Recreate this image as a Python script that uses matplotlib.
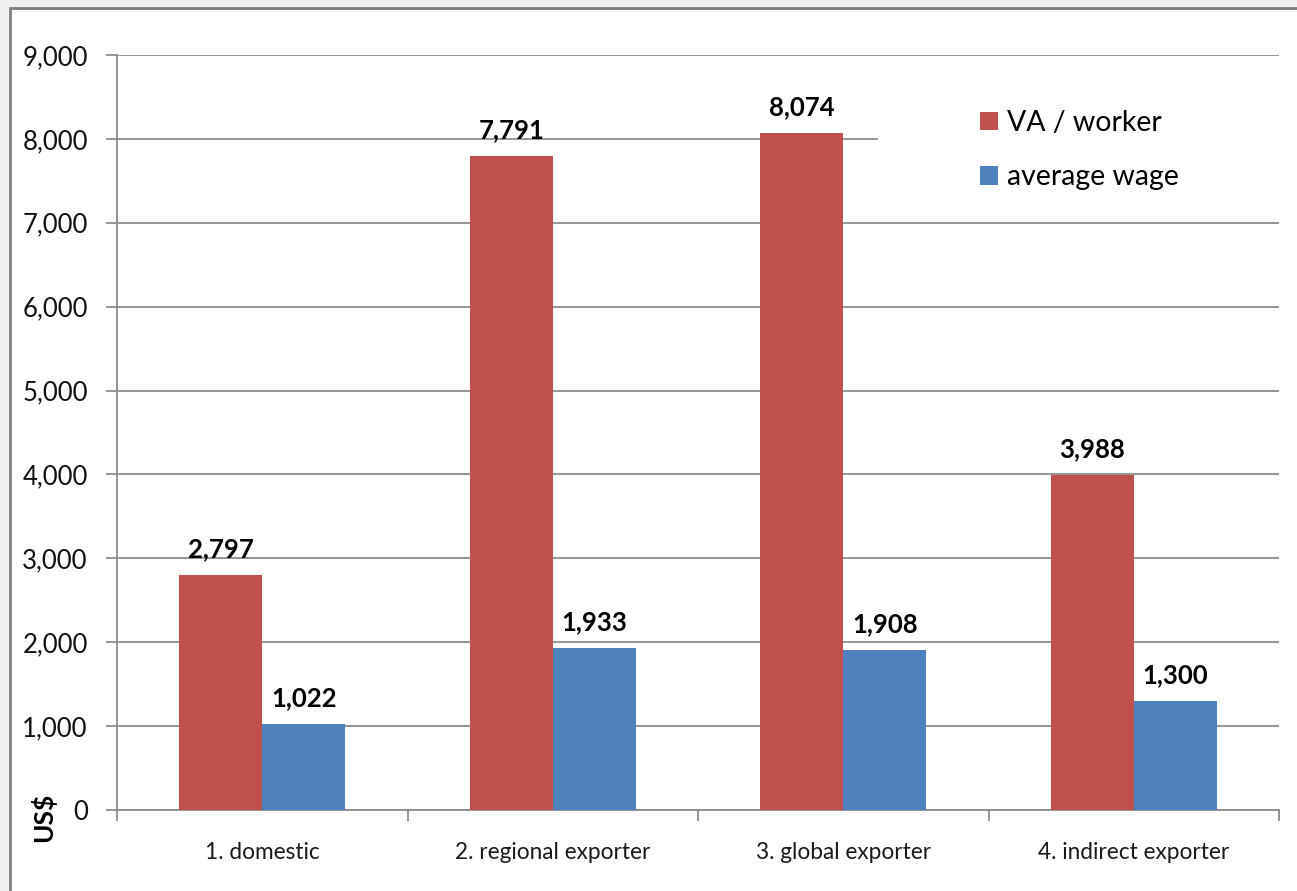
import numpy as np
import matplotlib.pyplot as plt
from matplotlib.patches import Rectangle

plt.rcParams['font.family'] = ['Lato', 'DejaVu Sans']

# Value added per worker vs. average wage by firm type (US$)
categories = ['1. domestic', '2. regional exporter', '3. global exporter', '4. indirect exporter']
va_per_worker = [2797, 7791, 8074, 3988]
avg_wage = [1022, 1933, 1908, 1300]
yticks = np.arange(0, 9001, 1000)

red = '#C0504D'
blue = '#4F81BD'
grid_col = '#8c8c8c'
W, H = 1297, 891

fig = plt.figure(figsize=(W / 100, H / 100), dpi=100)
fig.patch.set_facecolor('#f0f0f0')
# white chart area with a gray frame
fig.patches.append(Rectangle((10 / W, -0.1), 1.2, 1.1 - 8 / H,
                             transform=fig.transFigure, facecolor='white',
                             edgecolor='#7f7f7f', linewidth=2, zorder=-1))

ax = fig.add_axes([117 / W, 1 - 810 / H, (1279 - 117) / W, (810 - 55) / H])
ax.set_facecolor('none')
ax.set_zorder(2)

x = np.arange(len(categories))
w = 1 / 3.5
b1 = ax.bar(x - w / 2, va_per_worker, w, color=red, label='VA / worker', zorder=3)
b2 = ax.bar(x + w / 2, avg_wage, w, color=blue, label='average wage', zorder=3)

for bars, vals in ((b1, va_per_worker), (b2, avg_wage)):
    for r, v in zip(bars, vals):
        ax.annotate(f'{v:,}', (r.get_x() + r.get_width() / 2, v),
                    xytext=(0, 10), textcoords='offset points',
                    ha='center', va='bottom', fontsize=18.5, fontweight='bold', zorder=4)

ax.set_ylim(0, 9000)
ax.set_xlim(-0.5, len(categories) - 0.5)
ax.set_yticks(yticks)
ax.set_yticklabels([f'{t:,}' for t in yticks], fontsize=18.5, color='#111111')
ax.yaxis.grid(True, color=grid_col, linewidth=1.3, zorder=1)
ax.set_axisbelow(True)
ax.tick_params(axis='y', direction='out', length=8, width=1.3, color=grid_col, pad=13)

ax.set_xticks(x)
ax.set_xticklabels(categories, fontsize=16.3, color='#1a1a1a')
ax.tick_params(axis='x', length=0, pad=23)
ax.set_xticks(np.arange(-0.5, len(categories)), minor=True)
ax.tick_params(axis='x', which='minor', direction='out', length=8, width=1.3, color=grid_col)

for s in ('top', 'right'):
    ax.spines[s].set_visible(False)
for s in ('left', 'bottom'):
    ax.spines[s].set_color(grid_col)
    ax.spines[s].set_linewidth(1.3)

fig.text(43 / W, 1 - 817 / H, 'US$', rotation=90, ha='center', va='center',
         fontsize=19, fontweight='bold')

# white legend background box hiding the gridline behind it
ax.add_patch(Rectangle((0.655, 0.85), 0.345, 0.09, transform=ax.transAxes,
                       facecolor='white', edgecolor='none', zorder=2))
leg = ax.legend(loc='upper left', bbox_to_anchor=(980 / W, 1 - 110 / H),
                bbox_transform=fig.transFigure, fontsize=20.5, frameon=False,
                handlelength=0.63, handleheight=0.63, handletextpad=0.32,
                labelspacing=1.0, borderpad=0, borderaxespad=0)
leg.set_zorder(5)

fig.savefig('out.png', dpi=100, facecolor=fig.get_facecolor())
